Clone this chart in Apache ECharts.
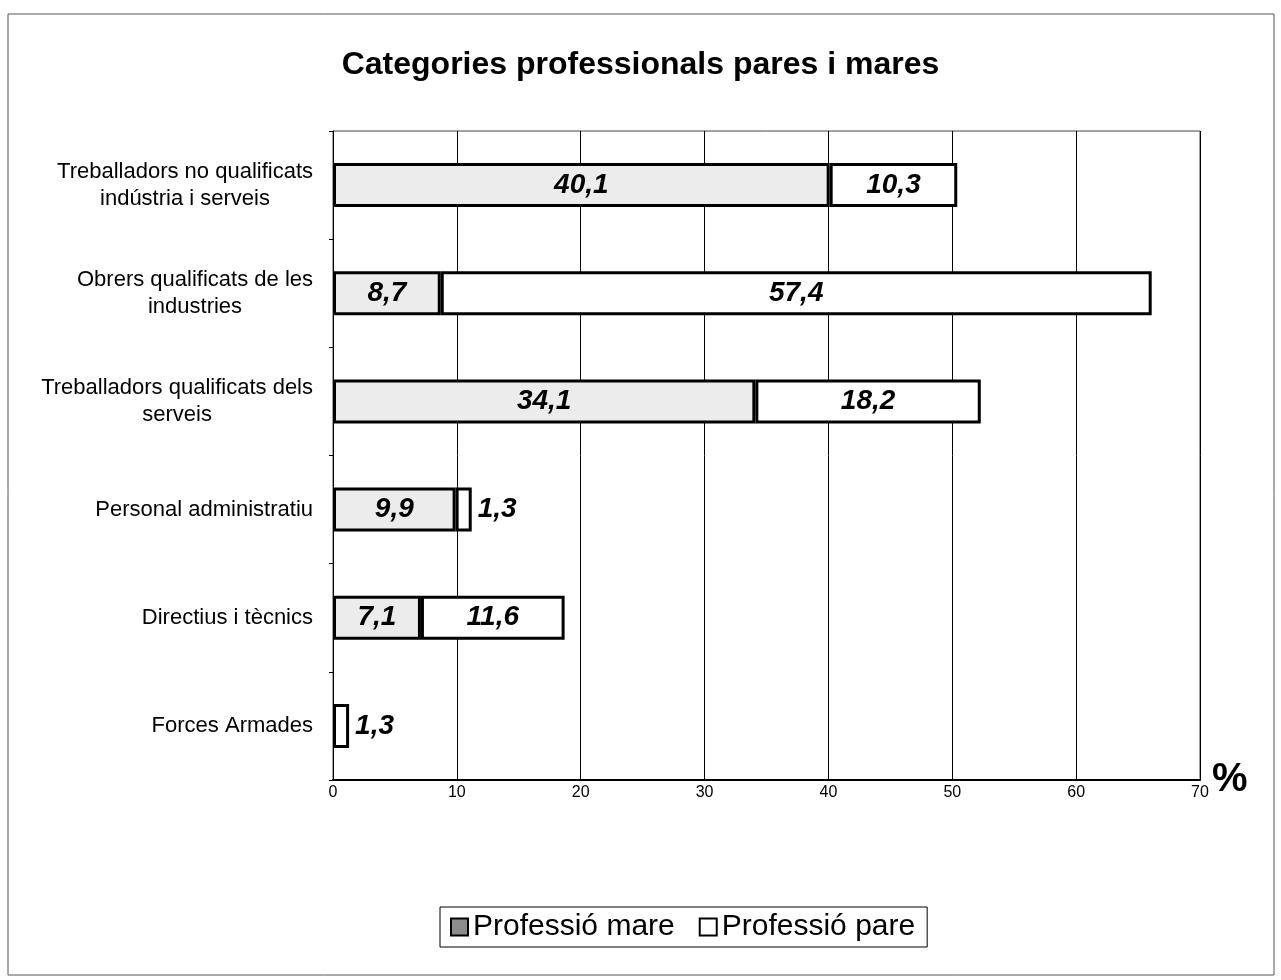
<!DOCTYPE html>
<html>
<head>
<meta charset="utf-8">
<script src="https://cdn.jsdelivr.net/npm/echarts@6/dist/echarts.min.js"></script>
<style>
  html, body { margin: 0; padding: 0; background: #fff; }
  #chart { width: 1281px; height: 980px; }
</style>
</head>
<body>
<div id="chart"></div>
<script>
// categories (top to bottom)
const categories = [
  'Treballadors no qualificats\nindústria i serveis',
  'Obrers qualificats de les\nindustries',
  'Treballadors qualificats dels\nserveis',
  'Personal administratiu',
  'Directius i tècnics',
  'Forces Armades'
]
const mareValues = [40.1, 8.7, 34.1, 9.9, 7.1, null]
const pareValues = [10.3, 57.4, 18.2, 1.3, 11.6, 1.3]
const xTicks = [0, 10, 20, 30, 40, 50, 60, 70]

const font = 'Liberation Sans, Arial, sans-serif'

const chart = echarts.init(document.getElementById('chart'))

const valueLabel = {
  show: true,
  fontFamily: font,
  fontWeight: 'bold',
  fontStyle: 'italic',
  fontSize: 28,
  color: '#000',
  formatter: p => String(p.value).replace('.', ',')
}

// small values get their label outside the bar
const withLabelPos = vals => vals.map(v => {
  if (v === null) return '-'
  if (v < 3) return { value: v, label: { position: 'right', distance: 6 } }
  return v
})

chart.setOption({
  animation: false,
  backgroundColor: '#fff',
  title: {
    text: 'Categories professionals pares i mares',
    left: 'center',
    top: 44,
    textStyle: { fontFamily: font, fontWeight: 'bold', fontSize: 32, color: '#000' }
  },
  legend: {
    left: 440,
    top: 907,
    padding: [5, 12, 5, 10],
    borderColor: '#000',
    borderWidth: 1,
    itemWidth: 17,
    itemHeight: 17,
    itemGap: 24,
    textStyle: { fontFamily: font, fontSize: 30, color: '#000' },
    data: [
      { name: 'Professió mare', icon: 'rect', itemStyle: { color: '#8c8c8c', borderColor: '#000', borderWidth: 2 } },
      { name: 'Professió pare', icon: 'rect', itemStyle: { color: '#fff', borderColor: '#000', borderWidth: 2 } }
    ]
  },
  grid: {
    left: 333,
    right: 81,
    top: 131,
    bottom: 200,
    show: true,
    borderColor: '#444',
    borderWidth: 1
  },
  xAxis: {
    type: 'value',
    min: xTicks[0],
    max: xTicks[xTicks.length - 1],
    interval: 10,
    axisLine: { show: true, lineStyle: { color: '#000', width: 2 } },
    axisTick: { show: false },
    axisLabel: { fontFamily: font, fontSize: 16, color: '#000', margin: 5 },
    splitLine: { show: true, lineStyle: { color: '#000', width: 1 } }
  },
  yAxis: {
    type: 'category',
    inverse: true,
    data: categories,
    axisLine: { show: true, lineStyle: { color: '#000', width: 1 } },
    axisTick: { show: true, length: 4, lineStyle: { color: '#000' } },
    axisLabel: {
      fontFamily: font,
      fontSize: 22,
      color: '#000',
      margin: 20,
      lineHeight: 27,
      formatter: val => val.split('\n').map(l => '{c|' + l + '}').join('\n'),
      rich: {
        c: { fontFamily: font, fontSize: 22, color: '#000', lineHeight: 27, align: 'center' }
      }
    }
  },
  graphic: [
    {
      type: 'rect',
      shape: { x: 8, y: 14, width: 1266, height: 961 },
      style: { fill: 'none', stroke: '#555', lineWidth: 1 },
      silent: true
    },
    {
      type: 'text',
      left: 1212,
      top: 760,
      style: { text: '%', fontFamily: font, fontWeight: 'bold', fontSize: 40, fill: '#000' }
    }
  ],
  series: [
    {
      name: 'Professió mare',
      type: 'bar',
      stack: 'total',
      barWidth: 44,
      data: withLabelPos(mareValues),
      itemStyle: { color: '#ececec', borderColor: '#000', borderWidth: 3 },
      label: Object.assign({ position: 'inside' }, valueLabel)
    },
    {
      name: 'Professió pare',
      type: 'bar',
      stack: 'total',
      barWidth: 44,
      data: withLabelPos(pareValues),
      itemStyle: { color: '#fff', borderColor: '#000', borderWidth: 3 },
      label: Object.assign({ position: 'inside' }, valueLabel)
    }
  ]
})
</script>
</body>
</html>
